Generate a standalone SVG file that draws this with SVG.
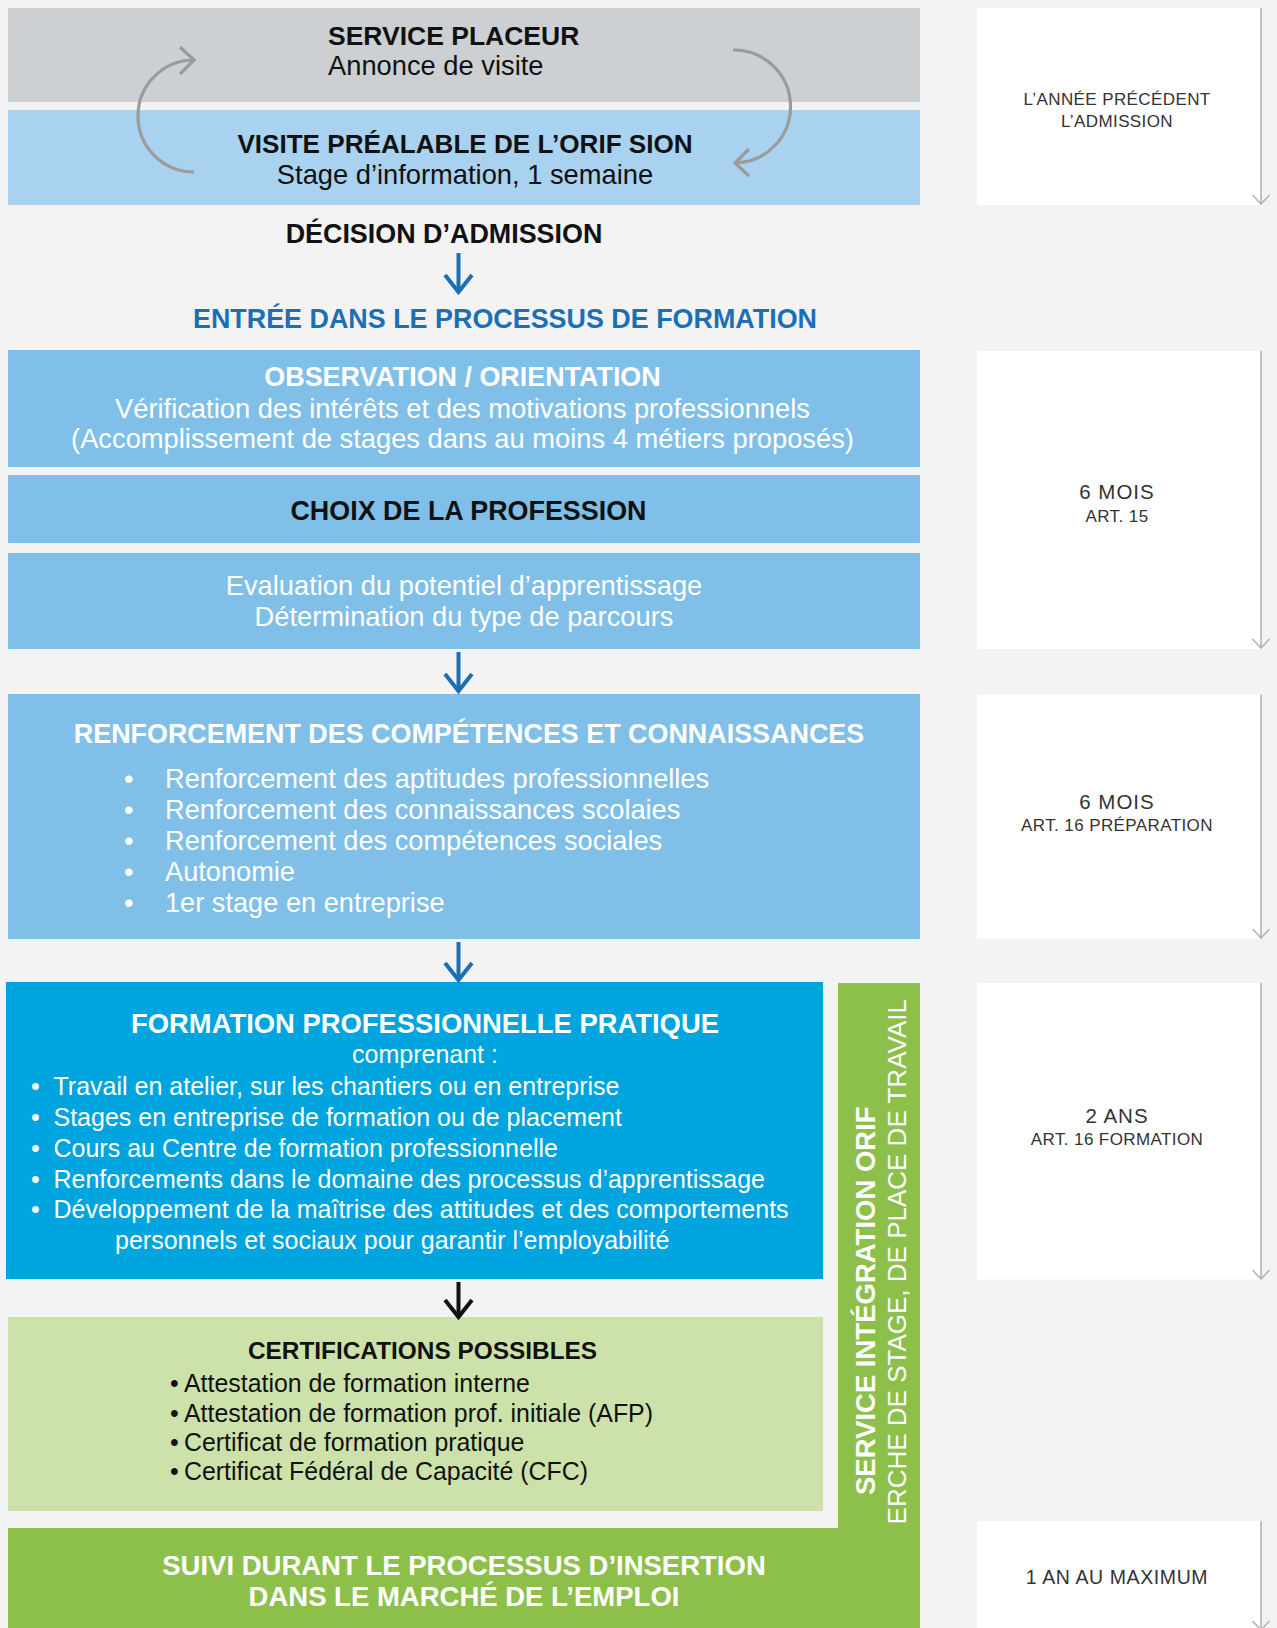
<svg xmlns="http://www.w3.org/2000/svg" width="1277" height="1628" viewBox="0 0 1277 1628">
<style>
text{font-family:"Liberation Sans",Arial,Helvetica,sans-serif}
.b{font-weight:bold;font-size:26.9px}
.r{font-size:27.3px}
.w{fill:#ffffff}
.k{fill:#111111}
.c{text-anchor:middle}
.side{fill:#ffffff}
.sl{fill:none;stroke:#b5b5b5;stroke-width:1.6}
.st{font-family:"Liberation Sans",Arial,sans-serif;fill:#333333;text-anchor:middle}
.big{font-size:20.5px;letter-spacing:1px}
.sm{font-size:17px;letter-spacing:0.4px}
.arb{fill:none;stroke:#1b6fb5;stroke-width:4}
.ark{fill:none;stroke:#111111;stroke-width:4}
.cyc{fill:none;stroke:#9b9b9b;stroke-width:3.2}
</style>
<defs>
<clipPath id="barclip"><rect x="838" y="983" width="82" height="545"/></clipPath>
</defs>
<rect x="0" y="0" width="1277" height="1628" fill="#f3f3f3"/>

<g id="service-placeur">
<rect x="8" y="8" width="912" height="94" fill="#cdd0d3"/>
<text class="k" x="328" y="45" font-weight="bold" font-size="26.5">SERVICE PLACEUR</text>
<text class="r k" x="328" y="75">Annonce de visite</text>
</g>

<g id="visite-prealable">
<rect x="8" y="110" width="912" height="95" fill="#a9d2f0"/>
<text class="k c" x="465" y="153" font-weight="bold" font-size="26.1">VISITE PRÉALABLE DE L’ORIF SION</text>
<text class="r k c" x="465" y="184">Stage d’information, 1 semaine</text>
</g>

<g id="decision">
<text class="b k c" x="444" y="243">DÉCISION D’ADMISSION</text>
</g>

<g id="entree">
<text class="b c" x="505" y="328" fill="#1b6fb5">ENTRÉE DANS LE PROCESSUS DE FORMATION</text>
</g>

<g id="observation">
<rect x="8" y="350" width="912" height="117" fill="#7fbfe8"/>
<text class="b w c" x="462.5" y="386">OBSERVATION / ORIENTATION</text>
<text class="r w c" x="462.5" y="418">Vérification des intérêts et des motivations professionnels</text>
<text class="r w c" x="462.5" y="448">(Accomplissement de stages dans au moins 4 métiers proposés)</text>
</g>

<g id="choix">
<rect x="8" y="475" width="912" height="68" fill="#7fbfe8"/>
<text class="b k c" x="468.5" y="520">CHOIX DE LA PROFESSION</text>
</g>

<g id="evaluation">
<rect x="8" y="553" width="912" height="96" fill="#7fbfe8"/>
<text class="r w c" x="464" y="595">Evaluation du potentiel d’apprentissage</text>
<text class="r w c" x="464" y="626">Détermination du type de parcours</text>
</g>

<g id="renforcement">
<rect x="8" y="694" width="912" height="245" fill="#7fbfe8"/>
<text class="b w c" x="469" y="743">RENFORCEMENT DES COMPÉTENCES ET CONNAISSANCES</text>
<g font-size="27.2">
<text class="w" x="124" y="788">•</text><text class="w" x="165" y="788">Renforcement des aptitudes professionnelles</text>
<text class="w" x="124" y="819">•</text><text class="w" x="165" y="819">Renforcement des connaissances scolaies</text>
<text class="w" x="124" y="850">•</text><text class="w" x="165" y="850">Renforcement des compétences sociales</text>
<text class="w" x="124" y="881">•</text><text class="w" x="165" y="881">Autonomie</text>
<text class="w" x="124" y="911.5">•</text><text class="w" x="165" y="911.5">1er stage en entreprise</text>
</g>
</g>

<g id="formation">
<rect x="6" y="982" width="817" height="297" fill="#00a4de"/>
<text class="w c" x="425" y="1033" font-weight="bold" font-size="27.4">FORMATION PROFESSIONNELLE PRATIQUE</text>
<text class="w c" x="425" y="1063" font-size="25">comprenant :</text>
<g font-size="25">
<text class="w" x="31" y="1095">•</text><text class="w" x="53.5" y="1095">Travail en atelier, sur les chantiers ou en entreprise</text>
<text class="w" x="31" y="1126">•</text><text class="w" x="53.5" y="1126">Stages en entreprise de formation ou de placement</text>
<text class="w" x="31" y="1157">•</text><text class="w" x="53.5" y="1157">Cours au Centre de formation professionnelle</text>
<text class="w" x="31" y="1187.5">•</text><text class="w" x="53.5" y="1187.5">Renforcements dans le domaine des processus d’apprentissage</text>
<text class="w" x="31" y="1217.5">•</text><text class="w" x="53.5" y="1217.5">Développement de la maîtrise des attitudes et des comportements</text>
<text class="w" x="115" y="1248.5">personnels et sociaux pour garantir l’employabilité</text>
</g>
</g>

<g id="certifications">
<rect x="8" y="1317" width="815" height="194" fill="#cde1aa"/>
<text class="k c" x="422.5" y="1359" font-weight="bold" font-size="24.4">CERTIFICATIONS POSSIBLES</text>
<g font-size="24.9">
<text class="k" x="170" y="1392">•</text><text class="k" x="184" y="1392">Attestation de formation interne</text>
<text class="k" x="170" y="1421.5">•</text><text class="k" x="184" y="1421.5">Attestation de formation prof. initiale (AFP)</text>
<text class="k" x="170" y="1450.5">•</text><text class="k" x="184" y="1450.5">Certificat de formation pratique</text>
<text class="k" x="170" y="1480">•</text><text class="k" x="184" y="1480">Certificat Fédéral de Capacité (CFC)</text>
</g>
</g>

<g id="service-integration">
<rect x="838" y="983" width="82" height="546" fill="#8dc04a"/>
<text class="w" transform="translate(875,1495) rotate(-90)" font-weight="bold" font-size="27.5">SERVICE INTÉGRATION ORIF</text>
<g clip-path="url(#barclip)">
<text class="w" transform="translate(906,999) rotate(-90)" font-size="26" text-anchor="end">ERCHE DE STAGE, DE PLACE DE TRAVAIL</text>
</g>
</g>

<g id="suivi">
<rect x="8" y="1528" width="912" height="100" fill="#8dc04a"/>
<text class="w c" x="464" y="1575" font-weight="bold" font-size="27.5">SUIVI DURANT LE PROCESSUS D’INSERTION</text>
<text class="w c" x="464" y="1605.5" font-weight="bold" font-size="27.5">DANS LE MARCHÉ DE L’EMPLOI</text>
</g>

<g id="periode-annee">
<rect class="side" x="977" y="8" width="284" height="197"/>
<text class="st sm" x="1117" y="104.5">L’ANNÉE PRÉCÉDENT</text>
<text class="st sm" x="1117" y="127">L’ADMISSION</text>
</g>

<g id="periode-6mois-art15">
<rect class="side" x="977" y="351" width="284" height="298"/>
<text class="st big" x="1117" y="498.5">6 MOIS</text>
<text class="st sm" x="1117" y="521.5">ART. 15</text>
</g>

<g id="periode-6mois-art16">
<rect class="side" x="977" y="694.5" width="284" height="244"/>
<text class="st big" x="1117" y="808.5">6 MOIS</text>
<text class="st sm" x="1117" y="830.5">ART. 16 PRÉPARATION</text>
</g>

<g id="periode-2ans">
<rect class="side" x="977" y="983" width="284" height="296.5"/>
<text class="st big" x="1117" y="1123">2 ANS</text>
<text class="st sm" x="1117" y="1145">ART. 16 FORMATION</text>
</g>

<g id="periode-1an">
<rect class="side" x="977" y="1521" width="284" height="107"/>
<text class="st" x="1117" y="1583.5" font-size="19.5" letter-spacing="0.6">1 AN AU MAXIMUM</text>
</g>

<g id="connectors">
<path class="cyc" d="M194,172 A56,56 0 0 1 194,60"/>
<path class="cyc" d="M180,47 L194,60 L180,74"/>
<path class="cyc" d="M733,50 A56,56 0 0 1 735,163"/>
<path class="cyc" d="M749,149 L735,163 L749,176"/>

<path class="arb" d="M458.5,253 V291"/>
<path class="arb" d="M445,275 L458.5,292 L472,275"/>
<path class="arb" d="M458.5,652 V690"/>
<path class="arb" d="M445,674 L458.5,691 L472,674"/>
<path class="arb" d="M458.5,942 V979"/>
<path class="arb" d="M445,963 L458.5,980 L472,963"/>
<path class="ark" d="M458.5,1282 V1316"/>
<path class="ark" d="M445,1300 L458.5,1317 L472,1300"/>

<path class="sl" d="M1261,8 V204 M1252.5,195 L1261,204 L1269.5,195"/>
<path class="sl" d="M1261,351 V648 M1252.5,639 L1261,648 L1269.5,639"/>
<path class="sl" d="M1261,694.5 V938 M1252.5,929 L1261,938 L1269.5,929"/>
<path class="sl" d="M1261,983 V1279 M1252.5,1270 L1261,1279 L1269.5,1270"/>
<path class="sl" d="M1261,1521 V1630 M1252.5,1621 L1261,1630 L1269.5,1621"/>
</g>
</svg>
